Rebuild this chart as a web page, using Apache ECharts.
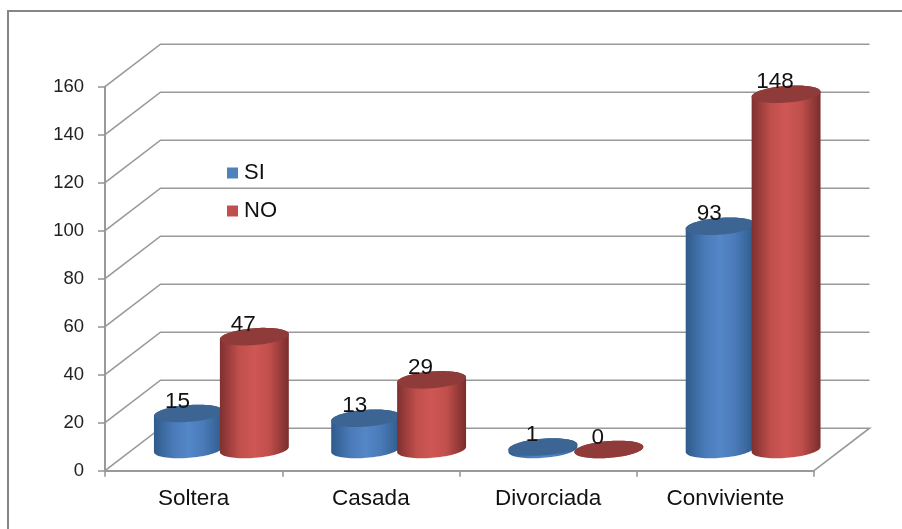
<!DOCTYPE html>
<html><head><meta charset="utf-8">
<style>html,body{margin:0;padding:0;background:#fff}#c{width:902px;height:529px}</style>
<script src="https://cdn.jsdelivr.net/npm/echarts@6/dist/echarts.min.js"></script>
</head><body><div id="c"></div>
<script>
const categories = ['Soltera', 'Casada', 'Divorciada', 'Conviviente'];
const seriesSI = [15, 13, 1, 93];
const seriesNO = [47, 29, 0, 148];
const yTicks = [0, 20, 40, 60, 80, 100, 120, 140, 160];

const FONT = '"Liberation Sans", Arial, sans-serif';
const DX = 55.5, DY = -42.5;        // oblique depth of the chart box
const GRID_COLOR = '#999999';
const chart = echarts.init(document.getElementById('c'), null, {renderer: 'canvas'});

function ellipsePts(cx, cy, rx, ry, a0, a1, n) {
  const th = -4.5 * Math.PI / 180, out = [];
  for (let i = 0; i <= n; i++) {
    const t = a0 + (a1 - a0) * i / n;
    const ex = rx * Math.cos(t), ey = ry * Math.sin(t);
    out.push([cx + ex * Math.cos(th) - ey * Math.sin(th), cy + ex * Math.sin(th) + ey * Math.cos(th)]);
  }
  return out;
}

function gridItem(params, api) {
  const v = api.value(1), cs = params.coordSys;
  const y = api.coord([0, v])[1];
  const x0 = cs.x, x1 = cs.x + cs.width;
  const pts = [[x0, y], [x0 + DX, y + DY], [x1 + DX, y + DY]];
  if (v === 0) pts.push([x1, y]);
  return {type: 'polyline', silent: true, shape: {points: pts},
    style: {stroke: GRID_COLOR, lineWidth: 1.6, fill: null}};
}

function cylinder(sign, c) {
  return function (params, api) {
    const p = api.coord([api.value(0), api.value(1)]);
    const band = api.size([1, 0])[0];
    const base = api.coord([api.value(0), 0]);
    const cx = p[0] + DX / 2 + sign * band * 0.186;
    const rx = band * 0.195, ry = 8.4;
    const topY = p[1] + DY / 2, botY = base[1] + DY / 2;
    const lower = ellipsePts(cx, botY, rx, ry, 0, Math.PI, 40);
    const upper = ellipsePts(cx, topY, rx, ry, Math.PI, 2 * Math.PI, 40);
    return {type: 'group', children: [
      {type: 'polygon', shape: {points: lower.concat(upper)},
        style: {fill: new echarts.graphic.LinearGradient(0, 0, 1, 0, [
          {offset: 0, color: c.edgeL}, {offset: 0.28, color: c.mid},
          {offset: 0.5, color: c.light}, {offset: 0.72, color: c.mid},
          {offset: 1, color: c.edgeR}])}},
      {type: 'polygon', shape: {points: ellipsePts(cx, topY, rx, ry, 0, 2 * Math.PI, 80)},
        style: {fill: c.top}},
      {type: 'text', z2: 100, style: {x: cx - 11, y: topY - 12, text: String(api.value(1)),
        fill: '#111', font: '22.5px ' + FONT, align: 'center', verticalAlign: 'middle'}}
    ]};
  };
}

const blue = {edgeL: '#2f5b8b', mid: '#4a7ab8', light: '#5487c8', edgeR: '#2f5b8b', top: '#3c6593'};
const red = {edgeL: '#7e302f', mid: '#c04f4c', light: '#cf5754', edgeR: '#792d2c', top: '#8f3b39'};

chart.setOption({
  animation: false,
  backgroundColor: '#fff',
  graphic: [{type: 'rect', silent: true, shape: {x: 8, y: 11, width: 1000, height: 700},
    style: {fill: null, stroke: '#868686', lineWidth: 2}}],
  grid: {left: 105, top: 86.7, width: 709, height: 384, containLabel: false},
  legend: {
    orient: 'vertical', left: 222, top: 157, itemWidth: 11, itemHeight: 11, itemGap: 16, icon: 'rect',
    selectedMode: false,
    textStyle: {fontFamily: FONT, fontSize: 22, color: '#111', padding: [0, 0, 0, 1]},
    data: [{name: 'SI', itemStyle: {color: '#4f81bd'}}, {name: 'NO', itemStyle: {color: '#c0504d'}}]
  },
  xAxis: {
    type: 'category', data: categories,
    axisLine: {lineStyle: {color: GRID_COLOR, width: 2}},
    axisTick: {show: true, length: 6, alignWithLabel: false, lineStyle: {color: GRID_COLOR, width: 1.6}},
    axisLabel: {interval: 0, fontFamily: FONT, fontSize: 22.5, color: '#111', margin: 17}
  },
  yAxis: {
    type: 'value', min: 0, max: 160, interval: 20,
    splitLine: {show: false},
    axisLine: {show: true, lineStyle: {color: GRID_COLOR, width: 2}},
    axisTick: {show: true, length: 7, lineStyle: {color: GRID_COLOR, width: 1.6}},
    axisLabel: {fontFamily: FONT, fontSize: 18.5, color: '#222', margin: 21, customValues: yTicks}
  },
  series: [
    {type: 'custom', name: 'grid', z: 1, silent: true, clip: false, renderItem: gridItem,
      data: yTicks.map(v => [0, v]), encode: {x: 0, y: 1}},
    {type: 'custom', name: 'SI', z: 2, silent: true, clip: false, renderItem: cylinder(-1, blue),
      itemStyle: {color: '#4f81bd'}, data: seriesSI.map((v, i) => [i, v]), encode: {x: 0, y: 1}},
    {type: 'custom', name: 'NO', z: 3, silent: true, clip: false, renderItem: cylinder(1, red),
      itemStyle: {color: '#c0504d'}, data: seriesNO.map((v, i) => [i, v]), encode: {x: 0, y: 1}}
  ]
});
</script></body></html>
